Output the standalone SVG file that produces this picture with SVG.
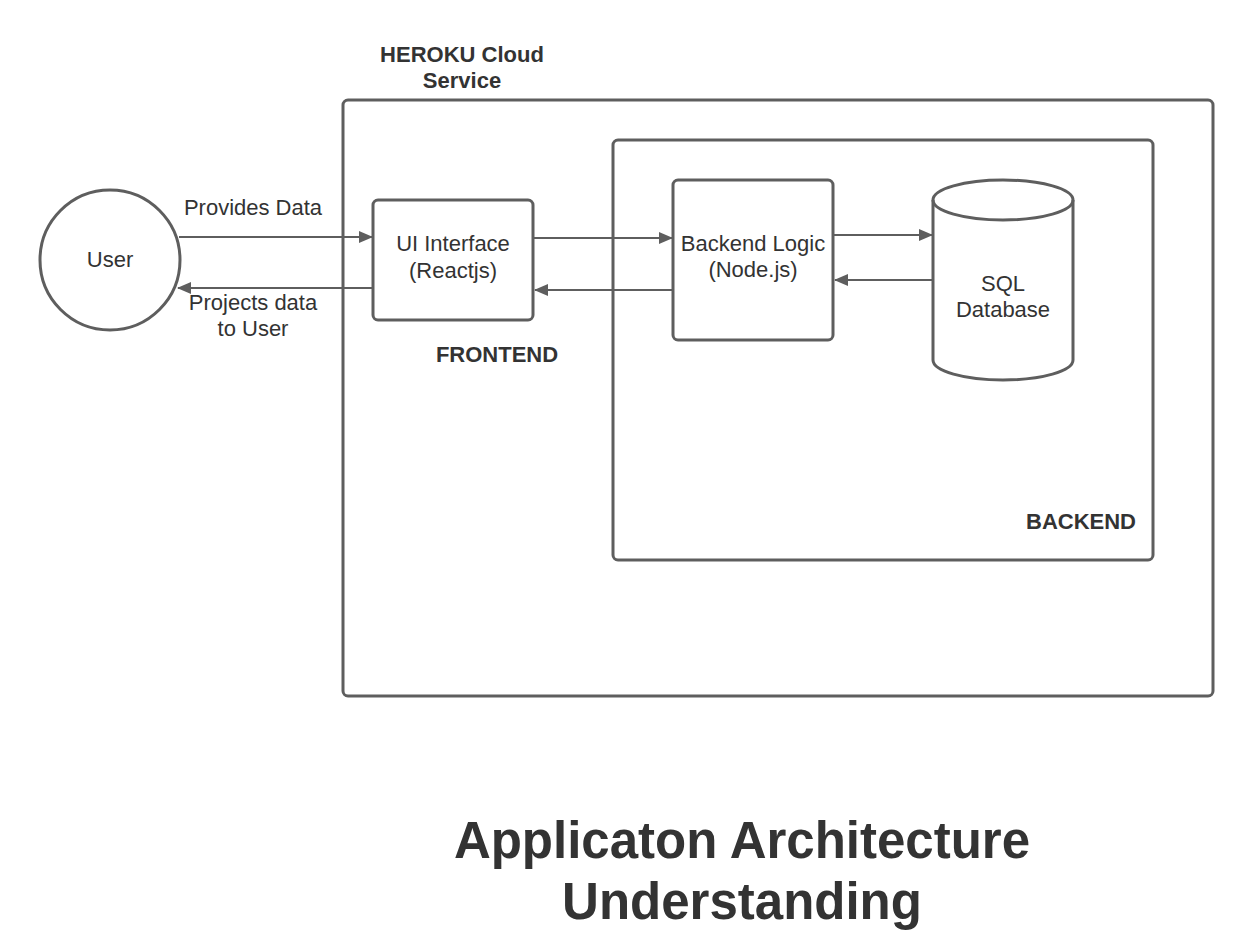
<svg xmlns="http://www.w3.org/2000/svg" width="1253" height="944" viewBox="0 0 1253 944">
<style>
.shape{fill:#ffffff;stroke:#5e5e5e;stroke-width:3}
.cont{fill:none;stroke:#5e5e5e;stroke-width:3}
.t{font-family:"Liberation Sans",Arial,sans-serif;font-size:22px;fill:#333333;text-anchor:middle}
.b{font-weight:bold}
.title{font-family:"Liberation Sans",Arial,sans-serif;font-size:51px;font-weight:bold;fill:#333333;text-anchor:middle}
.c{fill:none;stroke:#5e5e5e;stroke-width:2}
</style>
<defs>
<marker id="ah" markerUnits="userSpaceOnUse" markerWidth="14" markerHeight="12" refX="13" refY="6" orient="auto">
<path d="M0,0 L14,6 L0,12 Z" fill="#5e5e5e"/>
</marker>
</defs>
<rect width="1253" height="944" fill="#ffffff"/>
<g id="heroku">
<rect class="cont" x="343" y="100" width="870" height="596" rx="5"/>
<text class="t b" x="462" y="62">HEROKU Cloud</text>
<text class="t b" x="462" y="88">Service</text>
</g>
<g id="backend">
<rect class="cont" x="613" y="140" width="540" height="420" rx="5"/>
<text class="t b" x="1081" y="529">BACKEND</text>
</g>
<g id="frontend-label">
<text class="t b" x="497" y="362">FRONTEND</text>
</g>
<g id="connectors">
<line class="c" x1="179" y1="237" x2="372" y2="237" marker-end="url(#ah)"/>
<line class="c" x1="373" y1="288" x2="178" y2="288" marker-end="url(#ah)"/>
<line class="c" x1="534" y1="238" x2="672" y2="238" marker-end="url(#ah)"/>
<line class="c" x1="673" y1="290" x2="535" y2="290" marker-end="url(#ah)"/>
<line class="c" x1="834" y1="235" x2="932" y2="235" marker-end="url(#ah)"/>
<line class="c" x1="933" y1="280" x2="835" y2="280" marker-end="url(#ah)"/>
<text class="t" x="253" y="215">Provides Data</text>
<text class="t" x="253" y="310">Projects data</text>
<text class="t" x="253" y="336">to User</text>
</g>
<g id="user">
<circle class="shape" cx="110" cy="260" r="70"/>
<text class="t" x="110" y="267">User</text>
</g>
<g id="ui">
<rect class="shape" x="373" y="200" width="160" height="120" rx="5"/>
<text class="t" x="453" y="251">UI Interface</text>
<text class="t" x="453" y="278">(Reactjs)</text>
</g>
<g id="logic">
<rect class="shape" x="673" y="180" width="160" height="160" rx="5"/>
<text class="t" x="753" y="251">Backend Logic</text>
<text class="t" x="753" y="277">(Node.js)</text>
</g>
<g id="db">
<path class="shape" d="M933,200 L933,360 A70,20 0 0 0 1073,360 L1073,200 A70,20 0 0 0 933,200 Z"/>
<path class="shape" style="fill:none" d="M933,200 A70,20 0 0 0 1073,200"/>
<text class="t" x="1003" y="291">SQL</text>
<text class="t" x="1003" y="317">Database</text>
</g>
<g id="title">
<text class="title" x="742" y="858">Applicaton Architecture</text>
<text class="title" x="742" y="919">Understanding</text>
</g>
</svg>
